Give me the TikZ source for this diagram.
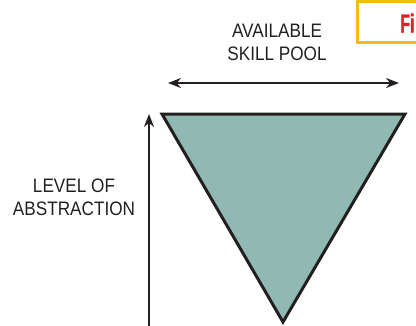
\documentclass[tikz,border=0pt]{standalone}
\usepackage{fontspec}
\setmainfont{Liberation Sans}
\newfontfamily\narrowfont[FakeStretch=0.88]{Liberation Sans}
\newfontfamily\tabfont[FakeStretch=0.62,FakeBold=1.5]{Liberation Sans Bold}
\usetikzlibrary{arrows.meta}
\definecolor{poolgreen}{HTML}{8FB9B2}
\definecolor{edgeblack}{HTML}{231F20}
\definecolor{figred}{HTML}{E3202A}
\definecolor{figgold}{HTML}{F6BA18}
\tikzset{
	label text/.style={align=center, font=\narrowfont\fontsize{19.5}{23}\selectfont, text=edgeblack},
	span arrow/.style={line width=1.8pt, draw=edgeblack, {Stealth[length=13pt,width=10pt]}-{Stealth[length=13pt,width=10pt]}}
}
\begin{document}
	\begin{tikzpicture}[x=1pt, y=-1pt]
	   \clip (0, 0) rectangle (416, 325);
	   \useasboundingbox (0, 0) rectangle (416, 325);
	   % corner tab, cut by the page edge
	   \draw [figgold, line width=3pt, fill=white] (357, 1.5) rectangle (440, 42.5);
	   \node [anchor=west, inner sep=0pt, text=figred, font=\tabfont\fontsize{26}{26}\selectfont] (tab) at (400, 23) {Fi};
	   \node [label text] (pool) at (277, 42) {AVAILABLE\\SKILL POOL};
	   \node [label text] (level) at (74, 197) {LEVEL OF\\ABSTRACTION};
	   \coordinate (pl) at (168, 83);
	   \coordinate (pr) at (399, 83);
	   \draw [span arrow] (pl) -- (pr);
	   % the pool narrows as it gets more abstract
	   \coordinate (tl) at (162, 114);
	   \coordinate (tr) at (405, 114);
	   \coordinate (tb) at (283, 322);
	   \draw [fill=poolgreen, draw=edgeblack, line width=3pt, line join=miter] (tl) -- (tr) -- (tb) -- cycle;
	   \coordinate (ab) at (149, 330);
	   \coordinate (at) at (149, 114);
	   \draw [line width=1.8pt, draw=edgeblack, -{Stealth[length=13pt,width=10pt]}] (ab) -- (at);
	\end{tikzpicture}
\end{document}
